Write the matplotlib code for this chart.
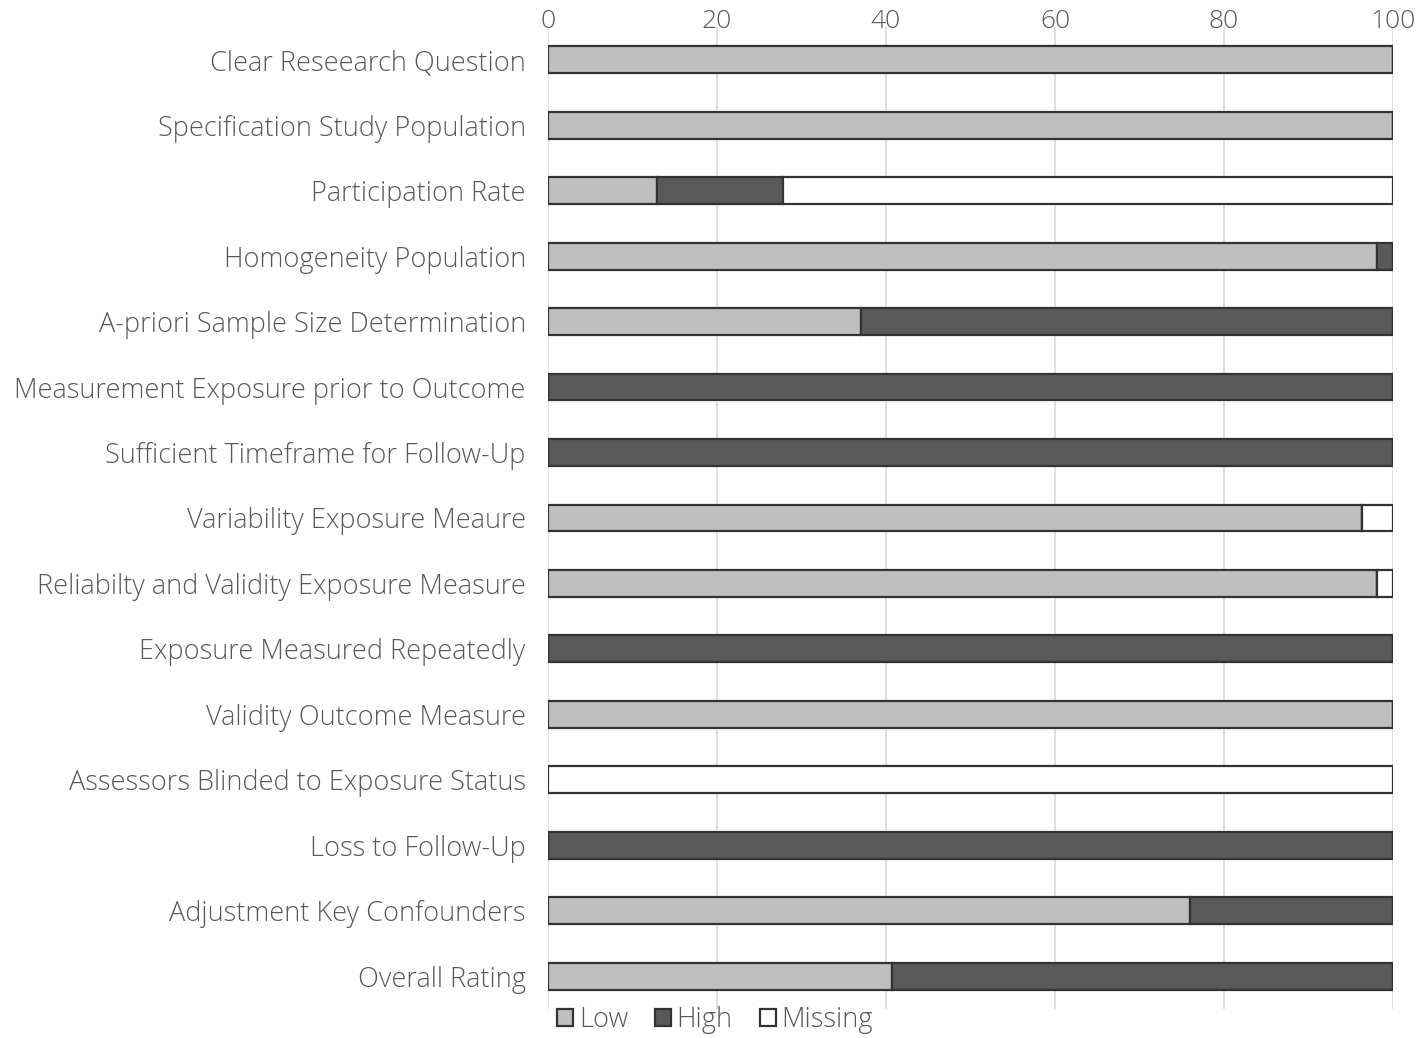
import matplotlib
matplotlib.use("Agg")
import matplotlib.pyplot as plt
import numpy as np

categories = [
    "Clear Reseearch Question",
    "Specification Study Population",
    "Participation Rate",
    "Homogeneity Population",
    "A-priori Sample Size Determination",
    "Measurement Exposure prior to Outcome",
    "Sufficient Timeframe for Follow-Up",
    "Variability Exposure Meaure",
    "Reliabilty and Validity Exposure Measure",
    "Exposure Measured Repeatedly",
    "Validity Outcome Measure",
    "Assessors Blinded to Exposure Status",
    "Loss to Follow-Up",
    "Adjustment Key Confounders",
    "Overall Rating",
]
low = [100, 100, 12.96, 98.15, 37.04, 0, 0, 96.30, 98.15, 0, 100, 0, 0, 75.93, 40.74]
high = [0, 0, 14.81, 1.85, 62.96, 100, 100, 0, 0, 100, 0, 0, 100, 24.07, 59.26]
missing = [0, 0, 72.23, 0, 0, 0, 0, 3.70, 1.85, 0, 0, 100, 0, 0, 0]
xticks = [0, 20, 40, 60, 80, 100]

plt.rcParams['font.family'] = ['Open Sans', 'DejaVu Sans']
fig = plt.figure(figsize=(14.16, 10.38), dpi=100)
ax = fig.add_axes([0.387, 0.028, 0.5967, 0.946])

y = np.arange(len(categories))
h = 0.41
ec = '#333333'
lw = 1.6
ax.barh(y, low, height=h, color='#bfbfbf', edgecolor=ec, linewidth=lw, label='Low')
ax.barh(y, high, left=low, height=h, color='#595959', edgecolor=ec, linewidth=lw, label='High')
left2 = np.array(low) + np.array(high)
ax.barh(y, missing, left=left2, height=h, color='white', edgecolor=ec, linewidth=lw, label='Missing')

ax.set_xlim(0, 100)
ax.set_ylim(len(categories) - 0.5, -0.5)
ax.set_yticks(y)
ax.set_yticklabels(categories, fontsize=19.5, color='#595959', fontweight='light')
ax.set_xticks(xticks)
ax.set_xticklabels([str(t) for t in xticks], fontsize=19, color='#595959', fontweight='light')
ax.xaxis.tick_top()
ax.tick_params(axis='y', length=0, pad=16)
ax.tick_params(axis='x', length=0, pad=-5)
for s in ax.spines.values():
    s.set_visible(False)
ax.set_axisbelow(True)
ax.grid(axis='x', color='#d9d9d9', linewidth=1.2)

handles, labels = ax.get_legend_handles_labels()
leg = fig.legend(handles, labels, loc='center', bbox_to_anchor=(715 / 1416, 18 / 1038), ncol=3,
                 frameon=False, prop={'size': 19.5, 'weight': 'light'}, handlelength=0.6,
                 handleheight=0.6, handletextpad=0.2, columnspacing=1.0, labelcolor='#595959',
                 borderpad=0, borderaxespad=0)
fig.savefig('out.png', dpi=100)
